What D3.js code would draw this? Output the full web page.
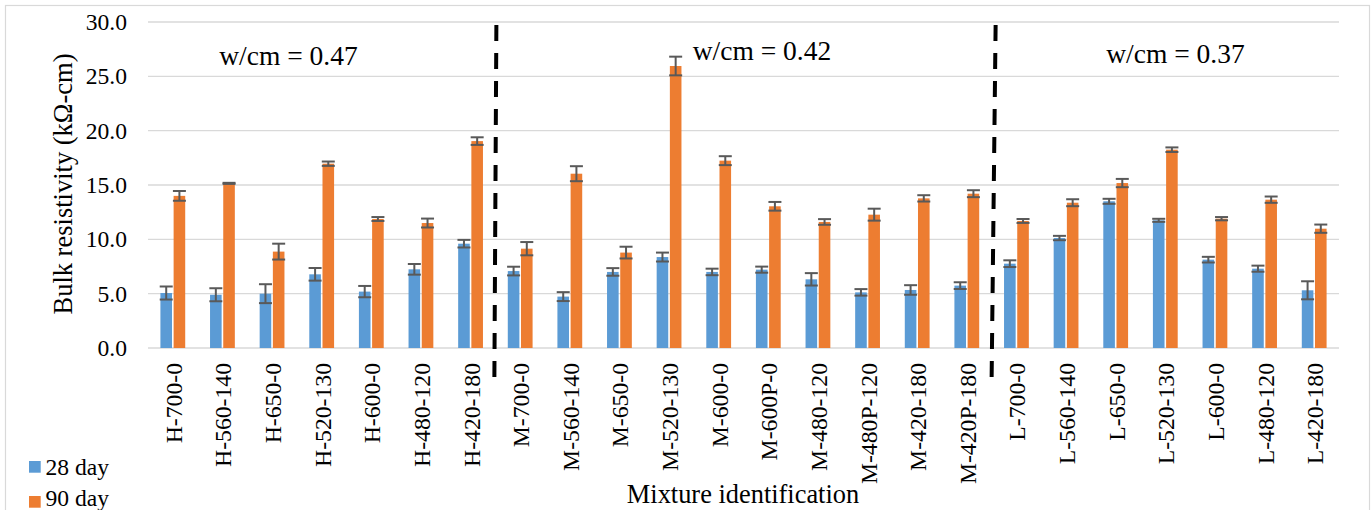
<!DOCTYPE html>
<html><head><meta charset="utf-8">
<script src="https://cdn.jsdelivr.net/npm/d3@7"></script>
<style>body{margin:0;background:#fff}svg{display:block}</style>
</head><body><svg id="c" width="1372" height="510"></svg>
<script>
const categories = ["H-700-0","H-560-140","H-650-0","H-520-130","H-600-0","H-480-120","H-420-180",
"M-700-0","M-560-140","M-650-0","M-520-130","M-600-0","M-600P-0","M-480-120","M-480P-120","M-420-180","M-420P-180",
"L-700-0","L-560-140","L-650-0","L-520-130","L-600-0","L-480-120","L-420-180"];
const day28 = [5.06,4.9,5.0,6.78,5.19,7.24,9.6, 7.08,4.73,7.0,8.37,7.0,7.21,6.32,5.12,5.34,5.74, 7.76,10.12,13.5,11.75,8.13,7.3,5.31];
const day28Err = [0.6,0.6,0.87,0.58,0.52,0.49,0.35, 0.4,0.41,0.35,0.41,0.3,0.28,0.57,0.3,0.44,0.31, 0.31,0.2,0.23,0.14,0.26,0.28,0.83];
const day90 = [14.0,15.15,8.87,16.96,11.87,11.5,19.04, 9.14,16.04,8.78,25.95,17.24,13.04,11.6,12.27,13.77,14.2, 11.69,13.37,15.18,18.25,11.9,13.65,10.98];
const day90Err = [0.45,0.05,0.73,0.2,0.18,0.41,0.35, 0.61,0.69,0.54,0.86,0.41,0.4,0.26,0.55,0.29,0.32, 0.18,0.32,0.38,0.21,0.15,0.29,0.38];
const seriesNames = ["28 day","90 day"];
const yTicks = [0,5,10,15,20,25,30];
const groupLabels = ["w/cm = 0.47","w/cm = 0.42","w/cm = 0.37"];
const groupSizes = [7,10,7];

const FONT = "Liberation Serif";
const svg = d3.select("#c");
const colors = ["#5B9BD5","#ED7D31"];
const m = {l:148, r:1339, t:22, b:348};
const x = d3.scaleBand().domain(categories).range([m.l, m.r]).paddingInner(0).paddingOuter(0);
const y = d3.scaleLinear().domain([0,30]).range([m.b, m.t]);
const bw = 11.6, gap = 1.6;

svg.append("rect").attr("x",5.5).attr("y",5.5).attr("width",1364).attr("height",520)
  .attr("fill","none").attr("stroke","#d9d9d9").attr("stroke-width",1.2);

svg.append("g").selectAll("line").data(yTicks).join("line")
  .attr("x1",m.l).attr("x2",m.r).attr("y1",d=>y(d)).attr("y2",d=>y(d))
  .attr("stroke","#d9d9d9").attr("stroke-width",1.3);

svg.append("g").selectAll("text").data(yTicks).join("text")
  .attr("font-family",FONT)
  .attr("x",127).attr("y",d=>y(d)).attr("dy","0.34em").attr("text-anchor","end")
  .attr("font-size",23.6).text(d=>d.toFixed(1));

svg.append("text").attr("font-family",FONT).attr("transform","translate(72,184) rotate(-90)").attr("text-anchor","middle")
  .attr("font-size",26.5).text("Bulk resistivity (kΩ-cm)");

const series = [day28, day90], errs = [day28Err, day90Err];
series.forEach((vals, si) => {
  const off = si === 0 ? -gap/2 - bw : gap/2;
  const g = svg.append("g");
  g.selectAll("rect").data(categories).join("rect")
    .attr("x", d => x(d) + x.bandwidth()/2 + off)
    .attr("y", (d,i) => y(vals[i])).attr("width", bw)
    .attr("height", (d,i) => y(0) - y(vals[i])).attr("fill", colors[si]);
  const eg = svg.append("g").attr("stroke","#595959").attr("stroke-width",2);
  categories.forEach((d,i) => {
    const cx = x(d) + x.bandwidth()/2 + off + bw/2;
    const y1 = y(vals[i] + errs[si][i]), y2 = y(vals[i] - errs[si][i]);
    eg.append("line").attr("x1",cx).attr("x2",cx).attr("y1",y1).attr("y2",y2);
    eg.append("line").attr("x1",cx-6.5).attr("x2",cx+6.5).attr("y1",y1).attr("y2",y1);
    eg.append("line").attr("x1",cx-6.5).attr("x2",cx+6.5).attr("y1",y2).attr("y2",y2);
  });
});

svg.append("g").selectAll("text").data(categories).join("text")
  .attr("font-family",FONT)
  .attr("transform", d => `translate(${x(d)+x.bandwidth()/2+9},363) rotate(-90)`)
  .attr("text-anchor","end").attr("font-size",23.7).text(d=>d);

svg.append("text").attr("font-family",FONT).attr("x",743).attr("y",503).attr("text-anchor","middle")
  .attr("font-size",26.4).text("Mixture identification");

let acc = 0;
const bounds = [];
groupSizes.slice(0,-1).forEach(n => { acc += n; bounds.push(acc); });
bounds.forEach((b, k) => {
  const bx = x(categories[b]);
  svg.append("line").attr("x1", bx + (k===0?1:4)).attr("x2", bx - (k===0?1:0))
    .attr("y1",25).attr("y2",378).attr("stroke","#000").attr("stroke-width",4)
    .attr("stroke-dasharray","16,12");
});

const glx = [288.5, 762, 1175.5], gly = [65, 60, 62.5];
groupLabels.forEach((t,i) => svg.append("text").attr("font-family",FONT).attr("x",glx[i]).attr("y",gly[i])
  .attr("text-anchor","middle").attr("font-size",27.5).text(t));

seriesNames.forEach((n,i) => {
  svg.append("rect").attr("x",29).attr("y",461 + i*35).attr("width",11.7).attr("height",11.7).attr("fill",colors[i]);
  svg.append("text").attr("font-family",FONT).attr("x",45.5).attr("y",475 + i*30.5).attr("font-size",23.6).text(n);
});
</script></body></html>
